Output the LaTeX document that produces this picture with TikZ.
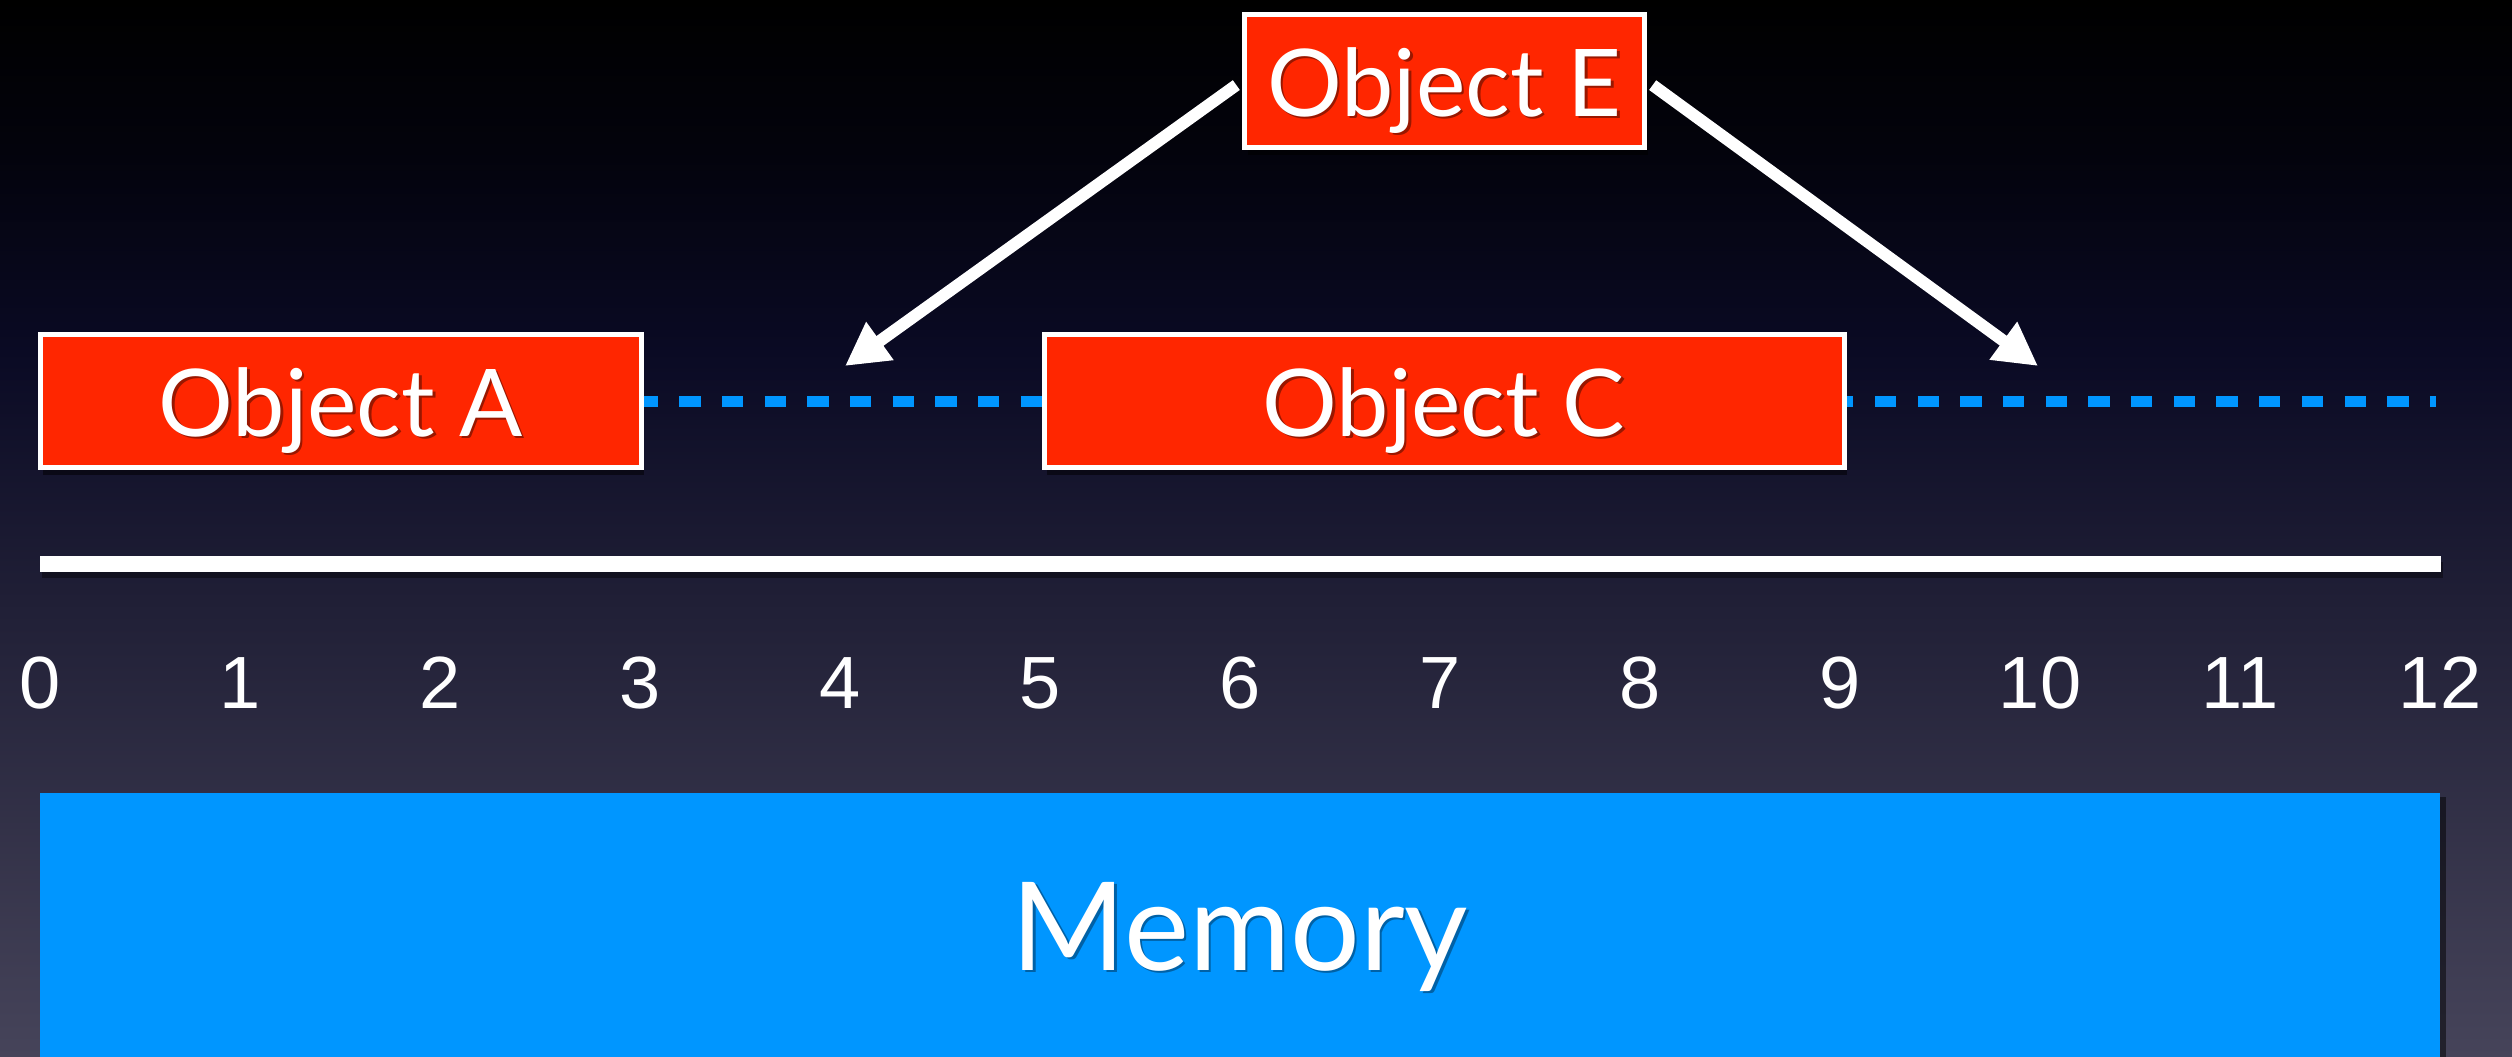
\documentclass[tikz,border=0pt]{standalone}
\usepackage{fontspec}
\newfontfamily\labfont{Lato}
\newfontfamily\numfont{Liberation Sans}
\usetikzlibrary{shadows,arrows.meta,calc}
\definecolor{objred}{RGB}{255,38,0}
\definecolor{memblue}{RGB}{0,150,255}
\definecolor{bgA}{RGB}{0,0,0}
\definecolor{bgB}{RGB}{3,3,12}
\definecolor{bgC}{RGB}{10,10,36}
\definecolor{bgD}{RGB}{32,31,54}
\definecolor{bgE}{RGB}{70,68,90}
\pgfdeclareverticalshading{bgshade}{100bp}{color(0bp)=(bgE); color(25bp)=(bgE);
  color(46.6bp)=(bgD); color(58.4bp)=(bgC); color(67.9bp)=(bgB);
  color(75bp)=(bgA); color(100bp)=(bgA)}
\newcommand\shtext[2]{\makebox[0pt][l]{\kern2.5pt\raisebox{-2.5pt}{\textcolor{#1}{#2}}}#2}
\begin{document}
\begin{tikzpicture}[x=1pt,y=-1pt,
  objbox/.style={draw=white, line width=5pt, fill=objred, text=white,
    minimum height=133pt, inner sep=0pt,
    font=\labfont\fontsize{93.5}{93.5}\selectfont,
    text height=70pt, text depth=0pt,
    drop shadow={shadow xshift=3pt, shadow yshift=-7pt, fill=black, opacity=0.5}},
  memboxstyle/.style={fill=memblue, text=white, inner sep=0pt,
    minimum width=2400pt, minimum height=280pt,
    font=\labfont\fontsize{123}{123}\selectfont,
    text height=74pt, text depth=0pt,
    drop shadow={shadow xshift=6pt, shadow yshift=-4pt, fill=black, opacity=0.5}},
  tick/.style={anchor=base, text=white, inner sep=0pt,
    font=\numfont\fontsize{74}{74}\selectfont},
  ptr/.style={draw=white, line width=12pt,
    -{Triangle[length=43pt,width=44pt]}, shorten <=7pt},
  slot/.style={draw=memblue, line width=11pt,
    dash pattern=on 21.35pt off 21.35pt, dash phase=7pt}
]
\useasboundingbox (0,0) rectangle (2512,1057);
\shade[shading=bgshade] (0,0) rectangle (2512,1057);

% memory ruler
\coordinate (ax0) at (40,564);
\coordinate (ax12) at (2441,564);
\draw[black, opacity=0.4, line width=16pt] ($(ax0)+(2,6)$) -- ($(ax12)+(2,6)$);
\draw[white, line width=16pt] (ax0) -- (ax12);
\foreach \i in {0,...,12}
  \node[tick] (n\i) at ({40+200*\i},708) {\i};

% memory block
\node[memboxstyle] (M) at (1240,933) {\shtext{memblue!65!black}{Memory}};

% objects
\node[objbox, minimum width=601pt] (A) at (340.5,401) {\shtext{objred!60!black}{Object A}};
\coordinate (dend) at (2436,401);
\draw[slot] (A.east) -- (dend);
\node[objbox, minimum width=800pt] (C) at (1444,401) {\shtext{objred!60!black}{Object C}};
\node[objbox, minimum width=400pt] (E) at (1444.5,81) {\shtext{objred!60!black}{Object E}};

% pointers
\coordinate (t4) at (845,366);
\coordinate (t10) at (2038,366);
\draw[ptr] (E.west) -- (t4);
\draw[ptr] (E.east) -- (t10);
\end{tikzpicture}
\end{document}
